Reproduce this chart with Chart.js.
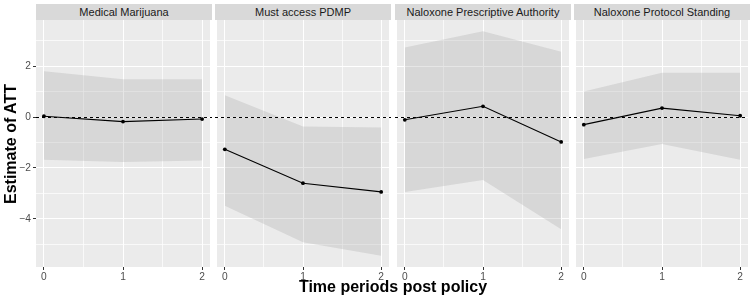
<!DOCTYPE html>
<html><head><meta charset="utf-8">
<script src="https://cdn.jsdelivr.net/npm/chart.js@4"></script>
<style>
html,body{margin:0;padding:0;background:#fff;}
#wrap{position:relative;width:753px;height:301px;overflow:hidden;font-family:"Liberation Sans",Arial,sans-serif;}
canvas{position:absolute;}
.strip{position:absolute;top:4px;height:16px;line-height:16px;background:#d9d9d9;color:#1a1a1a;font-size:11px;text-align:center;white-space:nowrap;overflow:hidden;}
.atitle{position:absolute;font-weight:bold;font-size:16px;line-height:16px;height:16px;text-align:center;color:#000;white-space:nowrap;}
</style></head><body><div id="wrap"></div>
<script>
// ---- data ----
const panelNames = ["Medical Marijuana", "Must access PDMP", "Naloxone Prescriptive Authority", "Naloxone Protocol Standing"];
const periods = [0, 1, 2];
const estMedicalMarijuana   = [0.03, -0.18, -0.08];
const upperMedicalMarijuana = [1.80, 1.48, 1.48];
const lowerMedicalMarijuana = [-1.68, -1.77, -1.71];
const estMustAccessPDMP   = [-1.27, -2.60, -2.94];
const upperMustAccessPDMP = [0.85, -0.37, -0.41];
const lowerMustAccessPDMP = [-3.48, -4.92, -5.45];
const estNaloxonePrescriptive   = [-0.11, 0.42, -0.98];
const upperNaloxonePrescriptive = [2.73, 3.37, 2.56];
const lowerNaloxonePrescriptive = [-2.94, -2.47, -4.41];
const estNaloxoneProtocol   = [-0.30, 0.35, 0.05];
const upperNaloxoneProtocol = [1.00, 1.74, 1.74];
const lowerNaloxoneProtocol = [-1.65, -1.06, -1.68];
const xMajorTicks = [0, 1, 2];
const xMinorTicks = [0.5, 1.5];
const yMajorTicks = [-4, -2, 0, 2];
const yMinorTicks = [-5, -3, -1, 1, 3];
const referenceValue = 0;
const xLimits = [-0.1, 2.1];
const yLimits = [-5.89, 3.81];
const xAxisTitle = "Time periods post policy";
const yAxisTitle = "Estimate of ATT";

const panelEst = [estMedicalMarijuana, estMustAccessPDMP, estNaloxonePrescriptive, estNaloxoneProtocol];
const panelUpper = [upperMedicalMarijuana, upperMustAccessPDMP, upperNaloxonePrescriptive, upperNaloxoneProtocol];
const panelLower = [lowerMedicalMarijuana, lowerMustAccessPDMP, lowerNaloxonePrescriptive, lowerNaloxoneProtocol];

// ---- layout ----
const panelLeft = [36, 215, 395, 574];
const panelW = 176;
const yAxisW = 36;
const canvasTop = 10, canvasH = 280, padTop = 10, xAxisH = 23, ext = 2;
const RIBBON = 'rgba(150,150,150,0.24)';
const FONT = '"Liberation Sans", Arial, sans-serif';

const wrap = document.getElementById('wrap');

const bgPlugin = {
  id: 'panelBg',
  beforeDraw(chart) {
    const {ctx, chartArea: a} = chart;
    ctx.save();
    ctx.fillStyle = '#ebebeb';
    ctx.fillRect(a.left, a.top, a.right - a.left, a.bottom - a.top);
    ctx.restore();
  }
};
const refLinePlugin = {
  id: 'refLine',
  afterDatasetsDraw(chart, args, opts) {
    const {ctx, chartArea: a, scales: {y}} = chart;
    const py = Math.round(y.getPixelForValue(referenceValue)) + 0.5;
    ctx.save();
    ctx.strokeStyle = '#000';
    ctx.lineWidth = 1;
    ctx.setLineDash([3, 3]);
    ctx.beginPath();
    ctx.moveTo(a.left - opts.extLeft, py);
    ctx.lineTo(a.right + opts.extRight, py);
    ctx.stroke();
    ctx.restore();
  }
};

const isIn = (arr, v) => arr.some(m => Math.abs(m - v) < 1e-9);
const fmt = v => v < 0 ? '\u2212' + Math.abs(v) : String(v);

function makePanel(i) {
  const first = i === 0, last = i === panelNames.length - 1;
  const leftPad = first ? 0 : ext;
  const cw = (first ? yAxisW : ext) + panelW + ext;
  const canvas = document.createElement('canvas');
  canvas.width = cw; canvas.height = canvasH;
  canvas.style.width = cw + 'px'; canvas.style.height = canvasH + 'px';
  canvas.style.left = (panelLeft[i] - (first ? yAxisW : ext)) + 'px';
  canvas.style.top = canvasTop + 'px';
  wrap.appendChild(canvas);

  const strip = document.createElement('div');
  strip.className = 'strip';
  strip.style.left = panelLeft[i] + 'px';
  strip.style.width = panelW + 'px';
  strip.textContent = panelNames[i];
  wrap.appendChild(strip);

  const pts = arr => periods.map((p, k) => ({x: p, y: arr[k]}));
  new Chart(canvas, {
    type: 'line',
    data: {datasets: [
      {data: pts(panelUpper[i]), borderWidth: 0, borderColor: 'transparent', pointRadius: 0, fill: '+1', backgroundColor: RIBBON, order: 3},
      {data: pts(panelLower[i]), borderWidth: 0, borderColor: 'transparent', pointRadius: 0, fill: false, order: 2},
      {data: pts(panelEst[i]), borderColor: '#000', borderWidth: 1.1, pointRadius: 1.9, pointBackgroundColor: '#000', pointBorderWidth: 0, fill: false, tension: 0, order: 1}
    ]},
    options: {
      responsive: false, animation: false, devicePixelRatio: 1,
      layout: {padding: {left: leftPad, right: ext, top: padTop, bottom: 0}},
      plugins: {legend: {display: false}, tooltip: {enabled: false}, title: {display: false},
        refLine: {extLeft: first ? 0 : ext, extRight: last ? 0 : ext}},
      scales: {
        x: {
          type: 'linear', min: xLimits[0], max: xLimits[1],
          afterBuildTicks: s => { s.ticks = xMajorTicks.concat(xMinorTicks).sort((a, b) => a - b).map(v => ({value: v})); },
          afterFit: s => { s.height = xAxisH; },
          border: {display: false},
          grid: {
            color: c => isIn(xMajorTicks, c.tick.value) ? '#ffffff' : 'rgba(255,255,255,0.7)',
            lineWidth: 1,
            tickLength: 3, tickWidth: 1,
            tickColor: c => isIn(xMajorTicks, c.tick.value) ? '#333333' : 'rgba(0,0,0,0)'
          },
          ticks: {
            autoSkip: false, maxRotation: 0, padding: 1, color: '#4d4d4d',
            font: {family: FONT, size: 10.2},
            callback: v => isIn(xMajorTicks, v) ? fmt(v) : ''
          }
        },
        y: {
          type: 'linear', min: yLimits[0], max: yLimits[1],
          afterBuildTicks: s => { s.ticks = yMajorTicks.concat(yMinorTicks).sort((a, b) => a - b).map(v => ({value: v})); },
          afterFit: s => { s.width = first ? yAxisW : 0; },
          border: {display: false},
          grid: {
            color: c => isIn(yMajorTicks, c.tick.value) ? '#ffffff' : 'rgba(255,255,255,0.7)',
            lineWidth: 1,
            drawTicks: first, tickLength: 3, tickWidth: 1,
            tickColor: c => isIn(yMajorTicks, c.tick.value) ? '#333333' : 'rgba(0,0,0,0)'
          },
          ticks: {
            display: first, autoSkip: false, padding: 2, color: '#4d4d4d',
            font: {family: FONT, size: 10.2},
            callback: v => isIn(yMajorTicks, v) ? fmt(v) : ''
          }
        }
      }
    },
    plugins: [bgPlugin, refLinePlugin]
  });
}

for (let i = 0; i < panelNames.length; i++) makePanel(i);

const xt = document.createElement('div');
xt.className = 'atitle';
xt.style.left = (393 - 200) + 'px'; xt.style.width = '400px'; xt.style.top = '279px';
xt.textContent = xAxisTitle;
wrap.appendChild(xt);

const yt = document.createElement('div');
yt.className = 'atitle';
yt.style.width = '200px'; yt.style.left = (11 - 100) + 'px'; yt.style.top = (143.5 - 8) + 'px';
yt.style.transform = 'rotate(-90deg)'; yt.style.transformOrigin = '50% 50%';
yt.textContent = yAxisTitle;
wrap.appendChild(yt);
</script>
</body></html>
